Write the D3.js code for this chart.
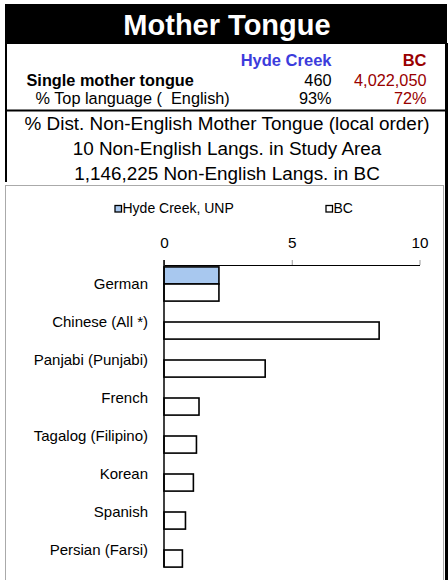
<!DOCTYPE html>
<html>
<head>
<meta charset="utf-8">
<script src="https://cdn.jsdelivr.net/npm/d3@7/dist/d3.min.js"></script>
<style>
  body { margin: 0; background: #fff; }
  svg text { font-family: "Liberation Sans", Arial, sans-serif; white-space: pre; }
</style>
</head>
<body>
<svg id="chart"></svg>
<script>
// Chart data
var langs = ["German", "Chinese (All *)", "Panjabi (Punjabi)", "French",
             "Tagalog (Filipino)", "Korean", "Spanish", "Persian (Farsi)"];
var hydeCreek = [2.15, 0, 0, 0, 0, 0, 0, 0];
var bc = [2.15, 8.42, 3.96, 1.37, 1.27, 1.15, 0.84, 0.72];
var seriesNames = ["Hyde Creek, UNP", "BC"];
var tickValues = [0, 5, 10];

// Header table
var colHeads = ["Hyde Creek", "BC"];
var rowLabels = ["Single mother tongue", "% Top language (  English)"];
var hydeCreekStats = ["460", "93%"];
var bcStats = ["4,022,050", "72%"];
var summaryLines = ["% Dist. Non-English Mother Tongue (local order)",
                    "10 Non-English Langs. in Study Area",
                    "1,146,225 Non-English Langs. in BC"];

var width = 448, height = 580;
var blue = "#3c3cdc", red = "#990000", barBlue = "#a8c8ef";

var svg = d3.select("#chart")
  .attr("width", width)
  .attr("height", height);

// Title band
svg.append("rect")
  .attr("x", 5).attr("y", 4)
  .attr("width", 442).attr("height", 40)
  .attr("fill", "#000");
svg.append("text")
  .attr("x", 227).attr("y", 34.5)
  .attr("text-anchor", "middle")
  .attr("fill", "#fff")
  .style("font-size", "29px")
  .style("font-weight", "bold")
  .text("Mother Tongue");

// Header box borders (left side + divider; right side drawn below)
svg.append("line")
  .attr("x1", 6).attr("x2", 6)
  .attr("y1", 43).attr("y2", 182)
  .attr("stroke", "#000")
  .attr("stroke-width", 2);
svg.append("line")
  .attr("x1", 5).attr("x2", 447)
  .attr("y1", 110.5).attr("y2", 110.5)
  .attr("stroke", "#000")
  .attr("stroke-width", 2);

// Column heads + stats rows
var colX = [331.5, 426.5];
svg.selectAll(".colhead")
  .data(colHeads)
  .enter().append("text")
  .attr("class", "colhead")
  .attr("x", function(d, i) { return colX[i]; })
  .attr("y", 66)
  .attr("text-anchor", "end")
  .attr("fill", function(d, i) { return i == 0 ? blue : red; })
  .style("font-size", "16.5px")
  .style("font-weight", "bold")
  .text(function(d) { return d; });

var rowY = [86, 104];
svg.selectAll(".rowlabel")
  .data(rowLabels)
  .enter().append("text")
  .attr("class", "rowlabel")
  .attr("x", function(d, i) { return i == 0 ? 26.5 : 35.5; })
  .attr("y", function(d, i) { return rowY[i]; })
  .style("font-size", "16.3px")
  .style("font-weight", function(d, i) { return i == 0 ? "bold" : "normal"; })
  .text(function(d) { return d; });

[hydeCreekStats, bcStats].forEach(function(col, c) {
  svg.selectAll(".stat" + c)
    .data(col)
    .enter().append("text")
    .attr("class", "stat" + c)
    .attr("x", colX[c])
    .attr("y", function(d, i) { return rowY[i]; })
    .attr("text-anchor", "end")
    .attr("fill", c == 0 ? "#000" : red)
    .style("font-size", "16.3px")
    .text(function(d) { return d; });
});

svg.selectAll(".summary")
  .data(summaryLines)
  .enter().append("text")
  .attr("class", "summary")
  .attr("x", 227)
  .attr("y", function(d, i) { return 130 + i * 24.8; })
  .attr("text-anchor", "middle")
  .style("font-size", "18.9px")
  .text(function(d) { return d; });

// Chart area frame
svg.append("rect")
  .attr("x", 5.5).attr("y", 185.5)
  .attr("width", 438).attr("height", 420)
  .attr("fill", "none")
  .attr("stroke", "#aaa")
  .attr("stroke-width", 1);
svg.append("line")
  .attr("x1", 446.5).attr("x2", 446.5)
  .attr("y1", 43).attr("y2", height)
  .attr("stroke", "#000")
  .attr("stroke-width", 3);

// Legend
var legendX = [115, 326], legendY = 205.5;
var legend = svg.selectAll(".legend")
  .data(seriesNames)
  .enter().append("g")
  .attr("class", "legend")
  .attr("transform", function(d, i) { return "translate(" + legendX[i] + "," + legendY + ")"; });
legend.append("rect")
  .attr("width", 6.5).attr("height", 6.5)
  .attr("fill", function(d, i) { return i == 0 ? barBlue : "#fff"; })
  .attr("stroke", "#000")
  .attr("stroke-width", 1.3);
legend.append("text")
  .attr("x", 7.5).attr("y", 7)
  .style("font-size", "14px")
  .text(function(d) { return d; });

// Scales
var x = d3.scaleLinear()
  .domain([0, 10])
  .range([164, 419.5]);

var y = d3.scaleBand()
  .domain(langs)
  .range([265, 569])
  .paddingInner(0.1)
  .paddingOuter(0.05);

var ySeries = d3.scaleBand()
  .domain([0, 1])
  .range([0, y.bandwidth()]);

// Top axis
var xAxis = svg.append("g")
  .attr("transform", "translate(0,265)")
  .call(d3.axisTop(x).tickValues(tickValues).tickSize(5).tickSizeOuter(0).tickPadding(12.5));
xAxis.select(".domain").attr("stroke", "#000").attr("stroke-width", 1.2);
xAxis.selectAll(".tick line").attr("stroke", "#999");
xAxis.selectAll(".tick text")
  .attr("fill", "#000")
  .style("font-family", "Liberation Sans, Arial, sans-serif")
  .style("font-size", "15.3px");

// Bars
var groups = svg.selectAll(".lang")
  .data(langs)
  .enter().append("g")
  .attr("class", "lang")
  .attr("transform", function(d) { return "translate(0," + y(d) + ")"; });

groups.selectAll("rect")
  .data(function(d, i) { return [hydeCreek[i], bc[i]]; })
  .enter().append("rect")
  .attr("x", x(0))
  .attr("y", function(d, j) { return ySeries(j); })
  .attr("width", function(d) { return x(d) - x(0); })
  .attr("height", ySeries.bandwidth())
  .attr("fill", function(d, j) { return j == 0 ? barBlue : "#fff"; })
  .attr("stroke", "#000")
  .attr("stroke-width", 1.6);

// Left axis with category labels
var yAxis = svg.append("g")
  .attr("transform", "translate(" + x(0) + ",0)")
  .call(d3.axisLeft(y).tickSize(0).tickSizeOuter(0).tickPadding(16));
yAxis.select(".domain")
  .attr("d", "M0,260V567")
  .attr("stroke", "#000")
  .attr("stroke-width", 1.5);
yAxis.selectAll(".tick text")
  .attr("fill", "#000")
  .style("font-family", "Liberation Sans, Arial, sans-serif")
  .style("font-size", "15px");
</script>
</body>
</html>
